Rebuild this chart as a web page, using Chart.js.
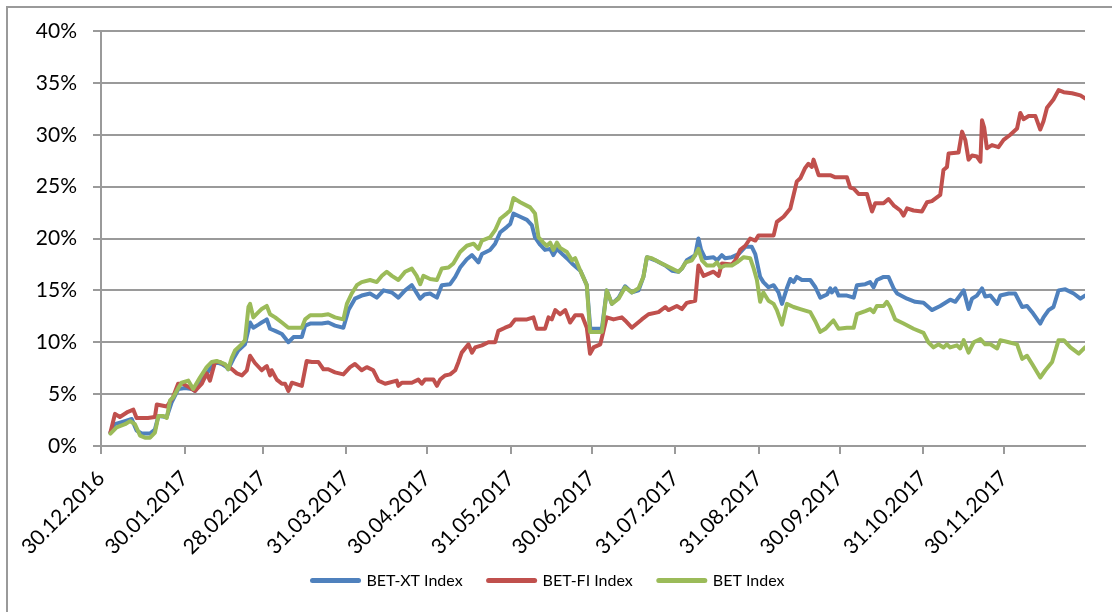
<!DOCTYPE html>
<html>
<head>
<meta charset="utf-8">
<script src="https://cdn.jsdelivr.net/npm/chart.js@4.4.1/dist/chart.umd.min.js"></script>
<style>
  html, body { margin: 0; padding: 0; background: #fff; }
  #wrap { position: relative; width: 1112px; height: 612px; }
  canvas { display: block; }
</style>
</head>
<body>
<div id="wrap"><canvas id="c" width="1112" height="612"></canvas></div>
<script>
// X axis: days since 30.12.2016
const tickDays = [0, 31, 60, 91, 121, 152, 182, 213, 244, 274, 305, 335];
const tickLabels = ['30.12.2016', '30.01.2017', '28.02.2017', '31.03.2017', '30.04.2017', '31.05.2017',
                    '30.06.2017', '31.07.2017', '31.08.2017', '30.09.2017', '31.10.2017', '30.11.2017'];
const yTickValues = [0, 5, 10, 15, 20, 25, 30, 35, 40];

const seriesNames = ['BET-XT Index', 'BET-FI Index', 'BET Index'];

// BET-XT Index
const betxtDays = [3.5,5.2,8.9,11.4,13.2,15.1,18.2,20,21.3,24.4,26.2,28.7,31.2,33.7,34.9,37.4,39.8,42.3,44.8,46.6,47.2,49.1,50.9,53.4,55.3,56.5,58.4,59.6,60.9,61.5,62.7,64.6,67.1,69.5,71.4,74.5,75.7,77.6,81.9,84.3,86.8,89.9,91.8,94.2,96.7,99.8,102.3,104.8,107.9,110.3,112.8,115.3,118.4,120,122.1,123.3,124.6,126.4,129.5,131.4,133.2,135.7,137.6,140,141.3,144.3,146.2,148.1,150.5,151.8,153,155.5,158,159.8,161,162.9,164.7,166.6,167.8,169.1,171.5,172.8,174.7,177.8,180.2,181.5,185.8,187.6,189.5,192,194.4,196.9,199.4,201.2,202.5,205.6,209.3,211.8,214.2,215.5,217.3,220.4,221.6,222.6,224.1,227.2,228.5,230.3,231.5,234,236.5,239,241.4,242.7,244.5,245.7,247.6,249.5,251.3,252.6,254.4,255.7,256.9,258.1,260,263.1,265,266.8,269.3,270.5,271.1,272.4,273.6,276.7,279.2,280.4,283.5,285.3,286.6,287.8,290.3,292.1,294,295.3,299,302,305.1,308.2,311.3,315,316.9,320,321.8,323.1,324.9,326.8,328,329.9,332.4,333.6,336.7,339.1,341.7,343.5,345.4,348.4,349.6,351.5,353.3,355.2,357.7,360.8,363.3,365];
const betxtValues = [1.3,2.1,2.4,2.6,1.5,1.2,1.2,1.6,2.9,2.8,4.2,5.5,5.6,5.5,5.3,6.3,7.2,8.1,7.9,7.6,7.4,8.4,9.2,9.8,11.9,11.4,11.7,11.9,12.1,12.2,11.3,11.1,10.8,10.0,10.5,10.5,11.6,11.8,11.8,11.9,11.6,11.4,13.1,14.2,14.5,14.7,14.3,15.0,14.8,14.3,15.0,15.5,14.2,14.6,14.7,14.5,14.3,15.5,15.6,16.3,17.2,18.0,18.4,17.7,18.5,18.9,19.5,20.6,21.1,21.4,22.4,22.1,21.8,21.3,20.1,19.4,18.9,19.0,18.4,19.0,18.4,18.1,17.6,16.9,15.5,11.3,11.3,15.0,13.7,14.3,15.4,14.8,15.0,16.3,18.2,17.9,17.4,16.9,16.8,17.1,17.9,18.4,20.0,18.9,18.1,18.2,17.9,18.4,18.1,18.2,18.5,19.2,19.2,18.5,16.3,15.8,15.3,15.5,14.8,13.7,15.2,16.1,15.8,16.3,16.0,16.0,15.3,14.3,14.6,15.2,14.8,15.2,14.5,14.5,14.3,15.5,15.6,15.8,15.3,16.0,16.3,16.3,15.2,14.7,14.2,13.9,13.8,13.1,13.5,14.1,13.9,15.0,13.2,14.2,14.5,15.2,14.4,14.5,13.7,14.5,14.7,14.7,13.4,13.5,12.9,11.8,12.4,13.1,13.4,15.0,15.1,14.7,14.2,14.5];

// BET-FI Index
const betfiDays = [3.5,5.2,7,10,12,13.2,17.4,20,20.7,24.4,26.7,28.6,30.4,32.4,34.9,37.4,39.2,40.4,42.3,44.1,46.8,48.6,50.4,52.3,54.1,55.3,57.1,59.6,60.9,61.5,62.7,63.3,65.2,67.1,68.3,69.5,70.8,74.5,76.3,78.2,80.6,82.5,84.3,86.8,89.9,92.4,94.2,96.7,98.6,101,102.9,105.4,109.7,110.3,111.6,115.3,117.7,119,120.2,123.3,124.6,125.8,127.6,129.5,131.4,132.6,133.8,136.3,137.6,138.8,141.3,143.7,146.2,147.4,149.9,151.8,153.6,158,160.4,161.7,164.7,166,167.2,168.5,170.3,172.2,174,175.9,178.4,180.2,181.4,182.7,185.2,187.6,190.1,193.2,194.4,196.9,200.6,203.1,206.8,209.3,210.5,213.6,215.5,217.3,220.4,221.6,223.5,227.2,229.1,230.3,234,235.3,237.1,239,240.8,242.7,243.9,249.5,250.7,253.2,255.7,258.1,259.4,261.2,262.4,263.7,264.3,266.2,270.5,272.4,276.7,277.9,279.2,281,284.1,286,287.2,290.3,292.1,294,296.5,297.7,299,301.4,304.5,306.4,308.2,311.3,312.5,313.8,314.4,318.1,319.4,320.6,321.8,323.1,324.9,326.2,326.8,327.6,328.6,330.5,332.9,334.8,337.3,339.8,341,342.2,344.1,346.6,348.4,349.6,350.9,353.3,355.2,357.1,360.2,363.3,365];
const betfiValues = [1.3,3.1,2.8,3.3,3.5,2.7,2.7,2.8,4.0,3.8,4.7,6.0,6.0,5.7,5.3,6.0,7.0,6.3,8.1,8.1,7.7,7.4,7.0,6.8,7.3,8.7,8.0,7.3,7.6,7.7,6.8,7.3,6.4,6.0,6.0,5.3,6.1,5.8,8.2,8.1,8.1,7.4,7.4,7.1,6.9,7.6,7.9,7.3,7.6,7.3,6.3,6.0,6.3,5.8,6.1,6.1,6.4,6.0,6.4,6.4,5.8,6.4,6.8,6.9,7.3,8.1,9.0,9.8,9.0,9.5,9.7,10.0,10.0,11.1,11.4,11.6,12.2,12.2,12.4,11.3,11.3,12.4,12.2,13.1,12.7,13.1,11.9,12.6,12.6,11.4,8.9,9.5,9.8,12.4,12.2,12.4,12.1,11.4,12.2,12.7,12.9,13.4,13.1,13.5,13.2,13.8,14.0,17.4,16.4,16.8,16.4,17.6,17.5,17.9,18.9,19.3,20.0,19.8,20.3,20.3,21.6,22.1,22.9,25.5,25.8,26.8,27.2,26.9,27.6,26.1,26.1,25.9,25.9,24.9,24.8,24.3,24.3,22.6,23.4,23.4,23.8,23.2,22.7,22.2,22.9,22.7,22.6,23.5,23.6,24.2,26.6,26.9,28.2,28.3,30.3,29.5,27.6,28.0,27.9,27.4,31.4,30.7,28.7,29.0,28.8,29.5,30.0,30.6,32.1,31.5,31.8,31.8,30.5,31.3,32.6,33.4,34.3,34.1,34.0,33.8,33.5];

// BET Index
const betDays = [3.5,5.8,8.9,10.8,12.6,14.5,16.3,18.2,20,21.3,23.1,24.4,25.6,26.8,28.7,29.9,32.4,34.2,36.7,39.2,41.1,42.9,46,47.2,48.5,49.7,52.2,53.4,54.7,55.3,56.5,58.4,59.6,61.5,62.7,64.6,67.1,69.5,74.5,75.7,77.6,81.9,84.3,86.8,89.9,91.2,93,94.9,96.7,99.8,102.3,104.2,106,107.9,110.3,112.8,115.3,117.1,118.4,119.6,122.1,124.6,126.4,128.9,130.7,133.2,135.7,138.2,140,141.3,144.3,146.2,148.1,150.5,151.8,153,155.5,159.2,161,162.3,164.1,165.4,166.6,167.8,169.1,170.3,172.8,174.7,175.9,177.8,180.2,181.4,185.8,187.6,189.5,192,194.4,196.9,199.4,201.2,202.5,204.3,208,211.8,214.2,215.5,216.9,219.2,220.4,221.6,222.9,224.7,227.2,228.5,229.7,231.5,234,235.9,238.4,240.8,242,243.3,244.5,245.7,247.6,249.5,250.7,252.6,254.4,256.9,259.4,263.1,265,266.8,268.7,270.5,271.7,273.6,276.7,279.2,280.4,283.5,285.3,286.6,287.8,290.3,291.5,292.7,294.6,297.7,301.4,305.1,306.9,308.8,310.6,312.5,313.8,315,317.5,318.7,320,321.8,323.7,326.2,328,329.9,332.4,333.6,336.7,339.8,341.7,343.5,345.4,348.4,350.3,352.8,355.2,357.1,359.6,362.7,365];
const betValues = [1.2,1.8,2.1,2.4,2.1,1.0,0.8,0.8,1.3,2.9,2.9,2.7,4.4,4.7,5.6,6.1,6.3,5.5,6.6,7.6,8.1,8.2,7.9,7.4,8.5,9.2,9.8,10.2,13.4,13.7,12.4,12.9,13.2,13.5,12.7,12.4,11.9,11.4,11.4,12.2,12.6,12.6,12.7,12.4,12.2,13.7,14.7,15.5,15.8,16.0,15.8,16.4,16.8,16.4,16.0,16.8,17.1,16.4,15.6,16.4,16.1,16.0,17.1,17.2,17.6,18.7,19.3,19.5,19.0,19.8,20.1,20.8,21.9,22.4,22.7,23.9,23.5,23.0,22.4,20.1,19.6,19.3,19.6,18.9,19.6,19.1,18.7,17.9,18.1,16.9,15.5,11.0,11.0,15.0,13.7,14.2,15.3,14.8,15.2,16.3,18.2,18.1,17.6,17.1,16.8,17.1,17.7,17.9,18.4,19.0,17.9,17.4,17.4,17.7,17.2,17.4,17.4,17.7,18.2,18.1,17.2,16.0,13.9,14.8,14.0,13.7,13.1,11.7,13.7,13.4,13.2,12.9,12.0,11.0,11.3,11.8,12.1,11.3,11.4,11.4,12.7,13.0,13.2,12.9,13.5,13.5,13.9,13.4,12.2,11.8,11.3,10.9,10.0,9.5,9.8,9.5,9.8,9.5,9.7,9.4,10.2,9.0,10.0,10.3,9.8,9.8,9.4,10.2,10.0,9.8,8.4,8.7,7.9,6.6,7.3,8.1,10.2,10.2,9.5,8.9,9.5];

const toPoints = (days, vals) => days.map((d, i) => ({ x: d, y: vals[i] }));

const GRID = '#9a9a9a';
const FONT = 'Lato, "Open Sans", sans-serif';

const frame = {
  id: 'frame',
  afterLayout(chart) {
    // nudge the legend block to the right, as in the reference
    if (chart.legend) { chart.legend.left += 6; chart.legend.right += 6; }
  },
  afterDraw(chart) {
    const ctx = chart.ctx;
    ctx.save();
    ctx.strokeStyle = '#9a9a9a';
    ctx.lineWidth = 2;
    ctx.beginPath();
    ctx.moveTo(7, 612);
    ctx.lineTo(7, 7);
    ctx.lineTo(1112, 7);
    ctx.stroke();
    ctx.restore();
  }
};

function draw() {
  const lineDs = (label, days, vals, color, order) => ({
    label, data: toPoints(days, vals), borderColor: color, backgroundColor: color,
    borderWidth: 4, pointRadius: 0, tension: 0, borderJoinStyle: 'round', borderCapStyle: 'round',
    order
  });
  new Chart(document.getElementById('c'), {
    type: 'line',
    data: {
      datasets: [
        lineDs(seriesNames[0], betxtDays, betxtValues, '#4F81BD', 2),
        lineDs(seriesNames[1], betfiDays, betfiValues, '#C0504D', 1),
        lineDs(seriesNames[2], betDays, betValues, '#9BBB59', 0)
      ]
    },
    options: {
      responsive: false,
      animation: false,
      events: [],
      layout: { padding: { left: 0, right: 27, top: 31, bottom: 13.5 } },
      scales: {
        x: {
          type: 'linear', min: 0, max: 365,
          afterBuildTicks: s => { s.ticks = tickDays.map(v => ({ value: v })); },
          afterFit: s => {
            s.height = 100.5; s.paddingLeft = 0; s.paddingRight = 0;
            s._computeLabelArea = () => undefined; // let rotated labels extend below the axis box
          },
          ticks: {
            autoSkip: false, maxRotation: 45, minRotation: 45, padding: 12,
            color: '#000', font: { family: FONT, size: 21 },
            callback: v => tickLabels[tickDays.indexOf(v)]
          },
          grid: { drawOnChartArea: false, drawTicks: true, tickLength: 8, color: GRID, lineWidth: 2 },
          border: { display: true, color: GRID, width: 2 }
        },
        y: {
          min: 0, max: 40,
          afterBuildTicks: s => { s.ticks = yTickValues.map(v => ({ value: v })); },
          afterFit: s => { s.width = 101; s.paddingTop = 0; s.paddingBottom = 0; },
          ticks: {
            padding: 16, color: '#000', font: { family: FONT, size: 21 },
            callback: v => v + '%'
          },
          grid: { color: GRID, lineWidth: 2, tickLength: 8 },
          border: { display: true, color: GRID, width: 2 }
        }
      },
      plugins: {
        legend: {
          position: 'bottom',
          labels: {
            usePointStyle: true, pointStyle: 'line', pointStyleWidth: 46,
            color: '#000', font: { family: FONT, size: 16 }, padding: 26,
            sort: (a, b) => a.datasetIndex - b.datasetIndex,
            generateLabels: chart => Chart.defaults.plugins.legend.labels.generateLabels(chart)
              .map(l => Object.assign(l, { lineWidth: 5, lineCap: 'round' }))
          }
        },
        tooltip: { enabled: false }
      }
    },
    plugins: [frame]
  });
}

if (document.fonts && document.fonts.load) {
  Promise.all([document.fonts.load('21px Lato'), document.fonts.load('16px Lato')]).then(draw, draw);
} else {
  draw();
}
</script>
</body>
</html>
